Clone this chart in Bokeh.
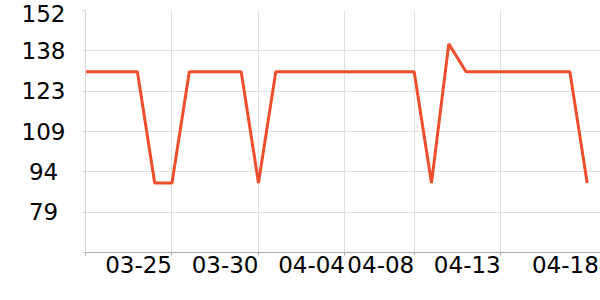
from bokeh.plotting import figure
from bokeh.models import FixedTicker, Range1d
from bokeh.embed import file_html
from bokeh.resources import INLINE

# ---- data ----
dates = ["03-20", "03-21", "03-22", "03-23", "03-24", "03-25", "03-26", "03-27",
         "03-28", "03-29", "03-30", "03-31", "04-01", "04-02", "04-03", "04-04",
         "04-05", "04-06", "04-07", "04-08", "04-09", "04-10", "04-11", "04-12",
         "04-13", "04-14", "04-15", "04-16", "04-17", "04-18"]
values = [130, 130, 130, 130, 90, 90, 130, 130, 130, 130, 90, 130, 130, 130, 130,
          130, 130, 130, 130, 130, 90, 140, 130, 130, 130, 130, 130, 130, 130, 90]
x_tick_labels = ["03-25", "03-30", "04-04", "04-08", "04-13", "04-18"]
y_tick_values = [65, 79.5, 94, 108.5, 123, 137.5, 152]
y_tick_labels = ["", "79", "94", "109", "123", "138", "152"]

# ---- layout constants ----
X_MAX = 29.77          # range end (days)
PX_PER_DAY = 515 / X_MAX
LABEL_HALF = 33.4 / PX_PER_DAY   # labels are right-aligned to their anchor

xs = list(range(len(dates)))
grid_days = [dates.index(l) for l in x_tick_labels[:-1]]
anchors = grid_days + [X_MAX - 0.1]
label_centers = [a - LABEL_HALF for a in anchors]

p = figure(width=600, height=300, output_backend="svg", toolbar_location=None,
           x_range=Range1d(0, X_MAX), y_range=Range1d(65, 152),
           min_border_left=85, min_border_right=0, min_border_top=10,
           min_border_bottom=48)
p.outline_line_color = None
p.background_fill_color = "white"
p.border_fill_color = "white"

p.line(xs, values, line_color="#ef4e2d", line_width=3)

# x axis
p.xaxis.ticker = FixedTicker(ticks=label_centers, minor_ticks=[0] + grid_days)
p.xaxis.major_label_overrides = {c: l for c, l in zip(label_centers, x_tick_labels)}
p.xaxis.major_tick_line_color = None
p.xaxis.major_tick_out = 0
p.xaxis.major_tick_in = 0
p.xaxis.minor_tick_line_color = "#aaaaaa"
p.xaxis.minor_tick_out = 3
p.xaxis.minor_tick_in = 0
p.xaxis.axis_line_color = "#aaaaaa"
p.xaxis.major_label_standoff = 0
p.xgrid.ticker = FixedTicker(ticks=grid_days)
p.xgrid.grid_line_color = "#e0e0e0"

# y axis
p.yaxis.ticker = FixedTicker(ticks=y_tick_values)
p.yaxis.major_label_overrides = {
    v: (l + "\u00a0" if len(l) == 2 else l) for v, l in zip(y_tick_values, y_tick_labels)
}
p.yaxis.axis_line_color = "#d8d8d8"
p.yaxis.major_tick_line_color = "#d8d8d8"
p.yaxis.major_tick_out = 3
p.yaxis.major_tick_in = 0
p.yaxis.minor_tick_line_color = None
p.yaxis.major_label_standoff = 17
p.ygrid.grid_line_color = "#e0e0e0"

for ax in (p.xaxis, p.yaxis):
    ax.major_label_text_font = "DejaVu Sans"
    ax.major_label_text_font_size = "23px"
    ax.major_label_text_color = "#000000"

open("out.html", "w").write(file_html(p, INLINE))
